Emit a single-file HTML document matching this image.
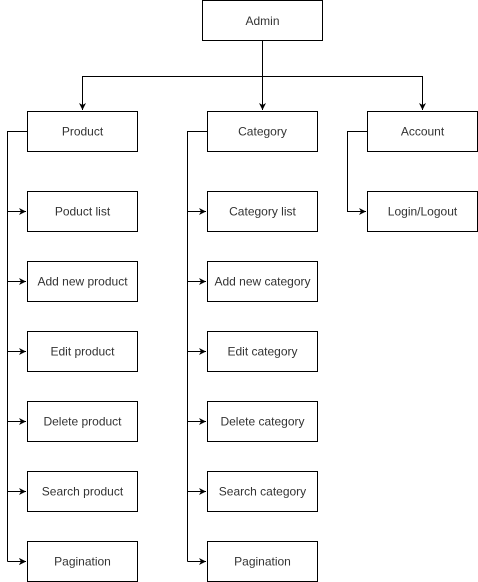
<!DOCTYPE html>
<html><head><style>
body{margin:0;background:#fff;width:478px;height:582px;overflow:hidden}
svg{display:block}
text{font-family:"Liberation Sans",sans-serif;font-size:12px;fill:#333;text-anchor:middle;dominant-baseline:central}
rect{fill:#fff;stroke:#000;stroke-width:1}
</style></head><body>
<svg width="478" height="582" viewBox="0 0 478 582">
<defs><marker id="a" markerWidth="8" markerHeight="8" refX="7" refY="4" orient="auto" markerUnits="userSpaceOnUse"><path d="M0,0.5 L7,4 L0,7.5 L2,4 Z" fill="#000"/></marker></defs>
<g fill="none" stroke="#000" stroke-width="1">
<path d="M262.5 40 V76.5 H82.5 V110" marker-end="url(#a)"/>
<path d="M262.5 76.5 V110" marker-end="url(#a)"/>
<path d="M262.5 76.5 H422.5 V110" marker-end="url(#a)"/>
<path d="M27 131.5 H7.5 V561.5"/>
<path d="M207 131.5 H187.5 V561.5"/>
<path d="M367 131.5 H347.5 V211.5 H366" marker-end="url(#a)"/>
<path d="M7.5 211.5 H26 M7.5 281.5 H26 M7.5 351.5 H26 M7.5 421.5 H26 M7.5 491.5 H26 M7.5 561.5 H26" marker-end="url(#a)"/>
<path d="M7.5 211.5 H26" marker-end="url(#a)"/><path d="M7.5 281.5 H26" marker-end="url(#a)"/><path d="M7.5 351.5 H26" marker-end="url(#a)"/><path d="M7.5 421.5 H26" marker-end="url(#a)"/><path d="M7.5 491.5 H26" marker-end="url(#a)"/><path d="M7.5 561.5 H26" marker-end="url(#a)"/>
<path d="M187.5 211.5 H206" marker-end="url(#a)"/><path d="M187.5 281.5 H206" marker-end="url(#a)"/><path d="M187.5 351.5 H206" marker-end="url(#a)"/><path d="M187.5 421.5 H206" marker-end="url(#a)"/><path d="M187.5 491.5 H206" marker-end="url(#a)"/><path d="M187.5 561.5 H206" marker-end="url(#a)"/>
</g>
<rect x="202.5" y="0.5" width="120" height="40"/><text x="262.5" y="21">Admin</text>
<rect x="27.5" y="111.5" width="110" height="40"/><text x="82.5" y="131.5">Product</text>
<rect x="207.5" y="111.5" width="110" height="40"/><text x="262.5" y="131.5">Category</text>
<rect x="367.5" y="111.5" width="110" height="40"/><text x="422.5" y="131.5">Account</text>
<rect x="367.5" y="191.5" width="110" height="40"/><text x="422.5" y="211.5">Login/Logout</text>
<rect x="27.5" y="191.5" width="110" height="40"/><text x="82.5" y="211.5">Poduct list</text>
<rect x="27.5" y="261.5" width="110" height="40"/><text x="82.5" y="281.5">Add new product</text>
<rect x="27.5" y="331.5" width="110" height="40"/><text x="82.5" y="351.5">Edit product</text>
<rect x="27.5" y="401.5" width="110" height="40"/><text x="82.5" y="421.5">Delete product</text>
<rect x="27.5" y="471.5" width="110" height="40"/><text x="82.5" y="491.5">Search product</text>
<rect x="27.5" y="541.5" width="110" height="40"/><text x="82.5" y="561.5">Pagination</text>
<rect x="207.5" y="191.5" width="110" height="40"/><text x="262.5" y="211.5">Category list</text>
<rect x="207.5" y="261.5" width="110" height="40"/><text x="262.5" y="281.5">Add new category</text>
<rect x="207.5" y="331.5" width="110" height="40"/><text x="262.5" y="351.5">Edit category</text>
<rect x="207.5" y="401.5" width="110" height="40"/><text x="262.5" y="421.5">Delete category</text>
<rect x="207.5" y="471.5" width="110" height="40"/><text x="262.5" y="491.5">Search category</text>
<rect x="207.5" y="541.5" width="110" height="40"/><text x="262.5" y="561.5">Pagination</text>
</svg>
</body></html>
